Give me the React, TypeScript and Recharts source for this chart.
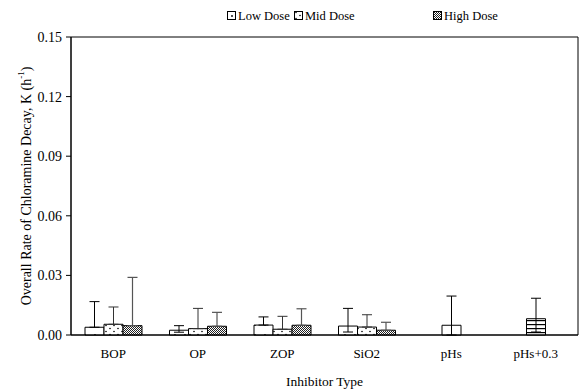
import React from 'react';
import { BarChart, Bar, XAxis, YAxis, ErrorBar, Cell, ReferenceArea } from 'recharts';

const categories = ['BOP', 'OP', 'ZOP', 'SiO2', 'pHs', 'pHs+0.3'];
const lowDose = [0.0039, 0.0024, 0.0050, 0.0045, null, null];
const lowErr = [[0, 0.0129], [0.0010, 0.0023], [0, 0.0041], [0.0030, 0.0089], null, null];
const midDose = [0.0054, 0.0032, 0.0029, 0.0040, null, null];
const midErr = [[0, 0.0087], [0, 0.0102], [0, 0.0065], [0, 0.0062], null, null];
const highDose = [0.0047, 0.0044, 0.0049, 0.0024, null, null];
const highErr = [[0, 0.0243], [0, 0.0070], [0, 0.0083], [0, 0.0040], null, null];
const singleDose = [null, null, null, null, 0.0049, 0.0082];
const singleErr = [null, null, null, null, [0.0049, 0.0147], [0.0067, 0.0103]];
const yTicks = [0, 0.03, 0.06, 0.09, 0.12, 0.15];
const legendLabels = ['Low Dose', 'Mid Dose', 'High Dose'];

const data = categories.map((cat, i) => ({
  cat,
  low: lowDose[i],
  lowErr: lowErr[i],
  mid: midDose[i],
  midErr: midErr[i],
  high: highDose[i],
  highErr: highErr[i],
  single: singleDose[i],
  singleErr: singleErr[i],
}));

const FONT = 'Liberation Serif, Times New Roman, Times, serif';

const YLabel = (props: any) => {
  const vb = props.viewBox || {};
  const cx = 26;
  const cy = (vb.y ?? 37) + (vb.height ?? 298) / 2;
  return (
    <text
      x={cx}
      y={cy}
      transform={`rotate(-90, ${cx}, ${cy})`}
      textAnchor="middle"
      dominantBaseline="central"
      style={{ fontFamily: FONT, fontSize: 14 }}
      fill="#000"
    >
      Overall Rate of Chloramine Decay, K (h
      <tspan baselineShift="super" fontSize={9}>-1</tspan>
      )
    </text>
  );
};

const legendFills = ['url(#lowPat)', 'url(#midPat)', 'url(#highPat)'];
const legendLeft = [227, 294, 433];

const PatternDefs = () => (
  <svg width={0} height={0} style={{ position: 'absolute' }}>
    <defs>
      <pattern id="lowPat" patternUnits="userSpaceOnUse" width={10} height={10}>
        <rect width={10} height={10} fill="#fff" />
        <circle cx={5} cy={5} r={0.9} fill="#000" />
      </pattern>
      <pattern id="midPat" patternUnits="userSpaceOnUse" width={8} height={6}>
        <rect width={8} height={6} fill="#fff" />
        <circle cx={2} cy={1.5} r={0.8} fill="#000" />
        <circle cx={6} cy={4.5} r={0.8} fill="#000" />
      </pattern>
      <pattern id="highPat" patternUnits="userSpaceOnUse" width={2} height={2}>
        <rect width={2} height={2} fill="#fff" />
        <rect x={0} y={0} width={1} height={1} fill="#222" />
        <rect x={1} y={1} width={1} height={1} fill="#222" />
      </pattern>
      <pattern id="stripePat" patternUnits="userSpaceOnUse" width={4} height={4}>
        <rect width={4} height={4} fill="#fff" />
        <rect x={0} y={0} width={4} height={1.2} fill="#000" />
      </pattern>
    </defs>
  </svg>
);

const tickStyle = { fontFamily: FONT, fontSize: 13, fill: '#000' };
const yTickStyle = { fontFamily: FONT, fontSize: 14, fill: '#000' };

export default function App() {
  return (
    <div style={{ position: 'absolute', left: 0, top: 0, width: 579, height: 389, background: '#fff', fontFamily: FONT }}>
      <PatternDefs />
      {legendLabels.map((l, i) => (
        <div
          key={l}
          style={{
            position: 'absolute',
            left: legendLeft[i],
            top: 9,
            display: 'flex',
            alignItems: 'center',
            fontFamily: FONT,
            fontSize: 12.5,
            lineHeight: '14px',
            color: '#000',
            whiteSpace: 'nowrap',
          }}
        >
          <svg width={10} height={10} style={{ marginRight: 1 }}>
            <rect x={0.5} y={0.5} width={8} height={8} fill={legendFills[i]} stroke="#000" strokeWidth={1} />
          </svg>
          <span>{l}</span>
        </div>
      ))}
      <BarChart
        width={579}
        height={389}
        data={data}
        margin={{ top: 37, right: 1, left: 0, bottom: 0 }}
        barGap={0}
        barSize={19}
        style={{ fontFamily: FONT }}
      >
        <XAxis
          dataKey="cat"
          axisLine={{ stroke: '#000' }}
          tickLine={false}
          tickSize={6}
          tickMargin={8}
          height={54}
          interval={0}
          tick={tickStyle}
          label={{ value: 'Inhibitor Type', position: 'insideBottom', offset: 3, style: { ...tickStyle, fontSize: 13.5 } }}
        />
        <XAxis xAxisId="single" dataKey="cat" hide />
        <YAxis
          domain={[0, 0.15]}
          ticks={yTicks}
          width={71}
          tickSize={5}
          tickMargin={4}
          axisLine={{ stroke: '#000' }}
          tickLine={{ stroke: '#000' }}
          tickFormatter={(v: number) => v.toFixed(2)}
          tick={yTickStyle}
          label={<YLabel />}
        />
        <ReferenceArea y1={0} y2={0.15} fill="none" stroke="#000" strokeWidth={1} />
        <Bar dataKey="low" fill="url(#lowPat)" stroke="#000" strokeWidth={1} isAnimationActive={false}>
          <ErrorBar dataKey="lowErr" direction="y" width={5} stroke="#000" strokeWidth={1} />
        </Bar>
        <Bar dataKey="mid" fill="url(#midPat)" stroke="#000" strokeWidth={1} isAnimationActive={false}>
          <ErrorBar dataKey="midErr" direction="y" width={5} stroke="#333" strokeWidth={1} />
        </Bar>
        <Bar dataKey="high" fill="url(#highPat)" stroke="#000" strokeWidth={1} isAnimationActive={false}>
          <ErrorBar dataKey="highErr" direction="y" width={5} stroke="#555" strokeWidth={1.2} />
        </Bar>
        <Bar xAxisId="single" dataKey="single" stroke="#000" strokeWidth={1} isAnimationActive={false}>
          {categories.map((c, i) => (
            <Cell key={c} fill={i === 5 ? 'url(#stripePat)' : '#fff'} />
          ))}
          <ErrorBar dataKey="singleErr" direction="y" width={5} stroke="#000" strokeWidth={1} />
        </Bar>
      </BarChart>
    </div>
  );
}
